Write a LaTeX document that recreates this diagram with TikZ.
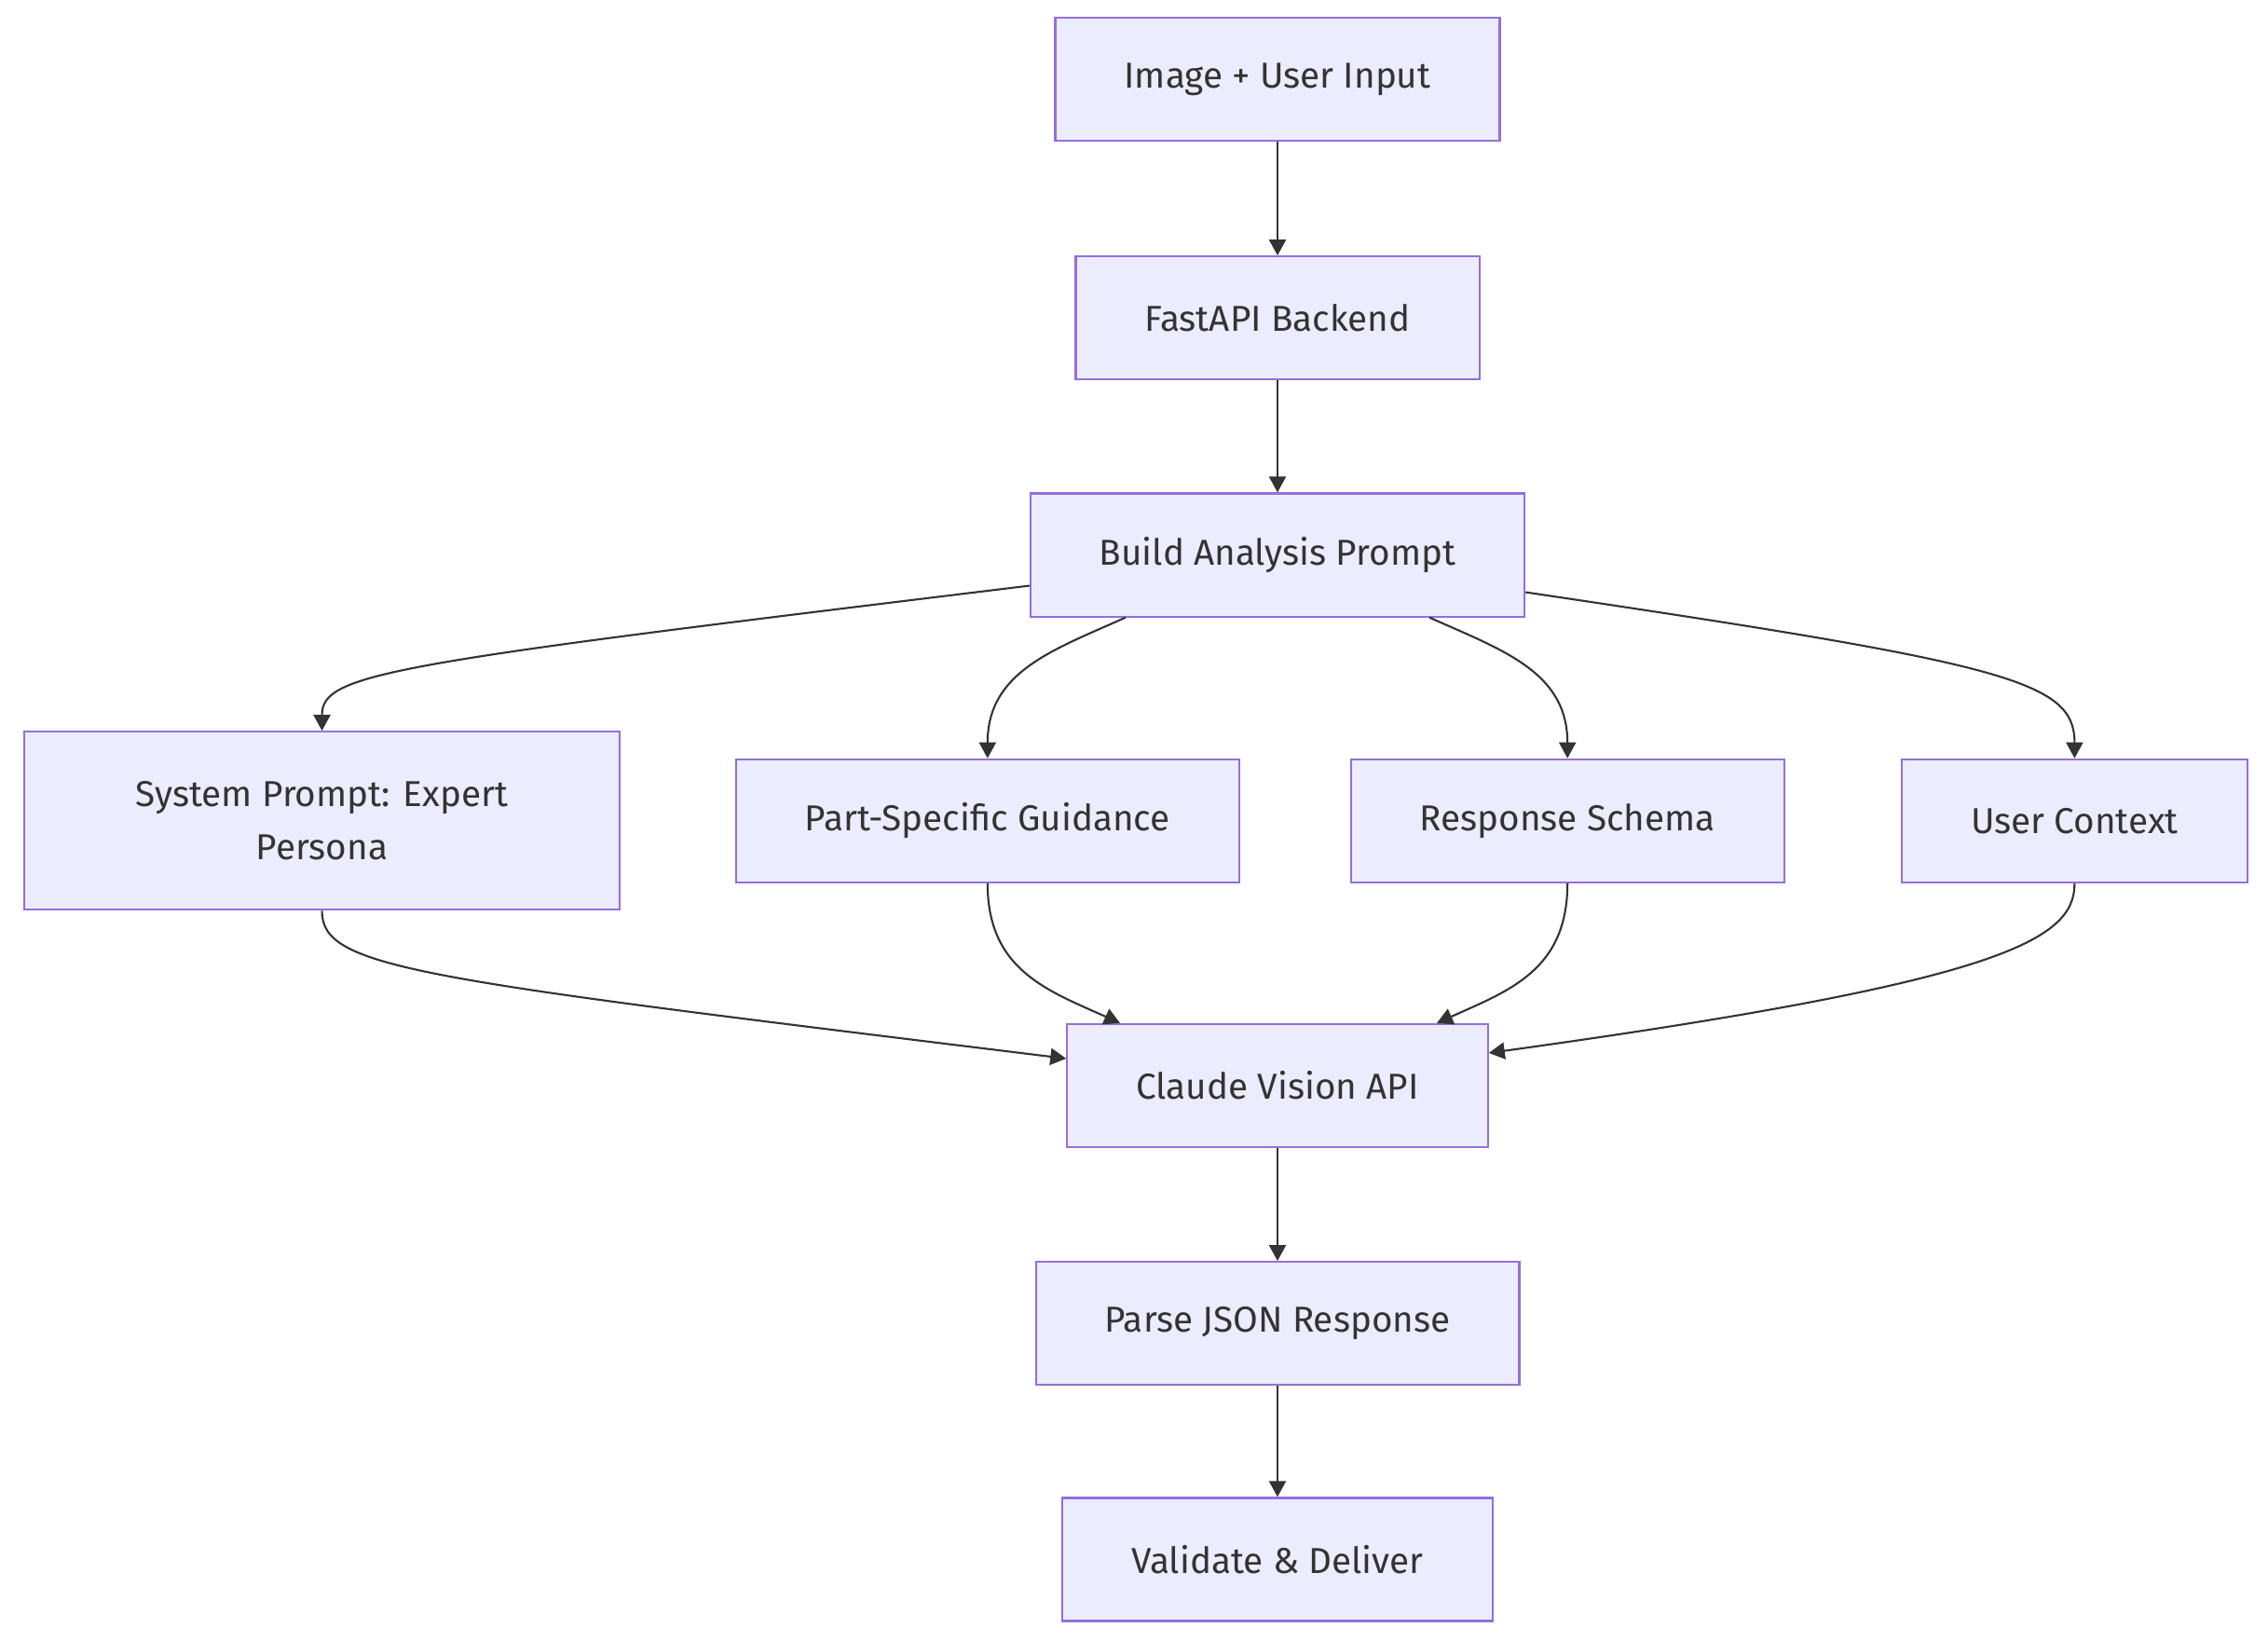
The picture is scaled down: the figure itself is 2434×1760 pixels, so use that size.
\documentclass[tikz,border=0pt]{standalone}
\usepackage{fontspec}
\setmainfont{Fira Sans}
\usepackage{xcolor}
\usepackage{tikz}
\usetikzlibrary{positioning, arrows.meta, calc}

\definecolor{boxfill}{HTML}{ECECFF}
\definecolor{boxline}{HTML}{9370DB}
\definecolor{edgecol}{HTML}{333333}

\begin{document}
\begin{tikzpicture}[
    x=0.01cm, y=-0.01cm,
    stage/.style={draw=boxline, fill=boxfill, line width=0.6pt,
                  minimum height=1.32cm, inner xsep=0.74cm, inner ysep=0pt,
                  align=center, text=edgecol,
                  font=\fontsize{11}{16.2}\selectfont},
    flow/.style={-{Triangle[length=1.7mm, width=1.8mm]}, line width=0.6pt,
                 draw=edgecol}
  ]
    \useasboundingbox (0,0) rectangle (2434,1760);
    \node[stage] (input) at (1371,85) {Image + User Input};
    \node[stage, below=1.22cm of input]   (backend) {FastAPI Backend};
    \node[stage, below=1.20cm of backend] (prompt)  {Build Analysis Prompt};
    \node[stage, below=1.51cm of prompt, xshift=-3.11cm] (part)   {Part-Specific Guidance};
    \node[stage, below=1.51cm of prompt, xshift=3.11cm]  (schema) {Response Schema};
    \node[stage, left=1.23cm of part, minimum width=6.38cm, minimum height=1.91cm]
         (system) {System Prompt: Expert\\Persona};
    \node[stage, right=1.24cm of schema]  (context) {User Context};
    \node[stage, below=4.35cm of prompt]  (claude)  {Claude Vision API};
    \node[stage, below=1.21cm of claude]  (parse)   {Parse JSON Response};
    \node[stage, below=1.19cm of parse]   (validate){Validate \& Deliver};
    % Main chain
    \draw[flow] (input)   -- (backend);
    \draw[flow] (backend) -- (prompt);
    % Fan out
    \draw[flow] ($(prompt.west)+(0,33)$) .. controls +(-690,84) and +(0,-62) .. (system.north);
    \draw[flow] ($(prompt.south)+(-163,0)$) .. controls +(-78,35) and +(0,-93) .. (part.north);
    \draw[flow] ($(prompt.south)+(163,0)$) .. controls +(78,35) and +(0,-93) .. (schema.north);
    \draw[flow] ($(prompt.east)+(0,40)$) .. controls +(519,77) and +(0,-83) .. (context.north);
    % Fan in
    \draw[flow] (system.south) .. controls +(0,62) and +(-700,-86) .. ($(claude.west)+(0,-29)$);
    \draw[flow] (part.south) .. controls +(0,93) and +(-78,-35) .. ($(claude.north)+(-169,0)$);
    \draw[flow] (schema.south) .. controls +(0,93) and +(78,-35) .. ($(claude.north)+(171,0)$);
    \draw[flow] (context.south) .. controls +(0,60) and +(556,-77) .. ($(claude.east)+(0,-35)$);
    \draw[flow] (claude) -- (parse);
    \draw[flow] (parse)  -- (validate);
\end{tikzpicture}
\end{document}
